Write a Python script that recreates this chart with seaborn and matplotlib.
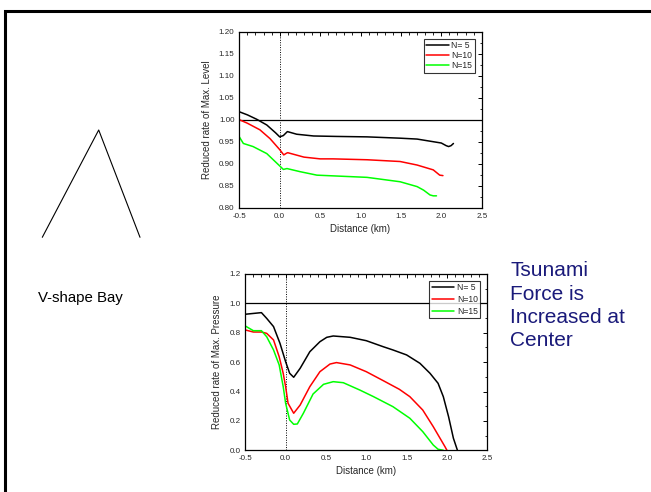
import numpy as np
import pandas as pd
import matplotlib
matplotlib.use("Agg")
import matplotlib.pyplot as plt
from matplotlib.lines import Line2D
from matplotlib.ticker import MultipleLocator
import seaborn as sns

# ---------------- data ----------------
series_names = ["N= 5", "N=10", "N=15"]
series_colors = ["#000000", "#FF0000", "#00FF00"]

# Top: reduced rate of max. level
lvl_x5 = [-0.5, -0.4, -0.285, -0.16, -0.05, 0.0, 0.045, 0.095, 0.21, 0.42, 0.7, 1.08, 1.49, 1.70, 1.90, 2.0, 2.06, 2.09, 2.12, 2.15]
lvl_y5 = [1.018, 1.011, 1.001, 0.988, 0.970, 0.961, 0.964, 0.973, 0.967, 0.963, 0.962, 0.961, 0.958, 0.956, 0.950, 0.947, 0.941, 0.939, 0.941, 0.946]
lvl_x10 = [-0.5, -0.4, -0.245, -0.12, 0.0, 0.05, 0.085, 0.1, 0.2, 0.3, 0.5, 0.66, 1.08, 1.49, 1.70, 1.90, 1.98, 2.02]
lvl_y10 = [1.000, 0.992, 0.977, 0.957, 0.932, 0.920, 0.924, 0.925, 0.920, 0.915, 0.911, 0.911, 0.909, 0.905, 0.897, 0.886, 0.874, 0.873]
lvl_x15 = [-0.5, -0.45, -0.33, -0.16, 0.0, 0.045, 0.09, 0.25, 0.46, 1.08, 1.49, 1.70, 1.78, 1.86, 1.90, 1.94]
lvl_y15 = [0.961, 0.946, 0.939, 0.923, 0.895, 0.887, 0.889, 0.882, 0.874, 0.869, 0.859, 0.848, 0.840, 0.829, 0.827, 0.827]

# Bottom: reduced rate of max. pressure
prs_x5 = [-0.5, -0.3, -0.235, -0.15, -0.07, 0.0, 0.05, 0.1, 0.18, 0.3, 0.425, 0.51, 0.59, 0.8, 1.0, 1.21, 1.33, 1.5, 1.665, 1.79, 1.89, 1.955, 2.02, 2.08, 2.13]
prs_y5 = [0.926, 0.937, 0.898, 0.842, 0.728, 0.603, 0.524, 0.497, 0.558, 0.671, 0.739, 0.769, 0.778, 0.769, 0.746, 0.705, 0.683, 0.649, 0.592, 0.524, 0.456, 0.365, 0.229, 0.082, 0.0]
prs_x10 = [-0.5, -0.4, -0.3, -0.235, -0.15, -0.08, -0.03, 0.0, 0.03, 0.1, 0.18, 0.3, 0.425, 0.55, 0.63, 0.8, 1.0, 1.21, 1.41, 1.54, 1.7, 1.83, 1.975, 2.0]
prs_y10 = [0.819, 0.805, 0.805, 0.796, 0.751, 0.637, 0.524, 0.433, 0.320, 0.252, 0.308, 0.433, 0.535, 0.587, 0.597, 0.581, 0.535, 0.474, 0.415, 0.365, 0.274, 0.161, 0.025, 0.0]
prs_x15 = [-0.5, -0.4, -0.3, -0.235, -0.15, -0.08, -0.03, 0.0, 0.05, 0.1, 0.145, 0.22, 0.34, 0.47, 0.59, 0.715, 0.92, 1.09, 1.33, 1.54, 1.7, 1.83, 1.89, 1.955]
prs_y15 = [0.846, 0.814, 0.814, 0.773, 0.683, 0.581, 0.433, 0.320, 0.206, 0.177, 0.179, 0.252, 0.383, 0.449, 0.467, 0.460, 0.410, 0.365, 0.297, 0.218, 0.127, 0.036, 0.007, 0.0]

x_label = "Distance (km)"
top_ylabel = "Reduced rate of Max. Level"
bot_ylabel = "Reduced rate of Max. Pressure"
side_text = "V-shape Bay"
note_text = "Tsunami\nForce is\nIncreased at\nCenter"


def long_df(xs, ys):
    frames = []
    for name, x, y in zip(series_names, xs, ys):
        frames.append(pd.DataFrame({"x": x, "y": y, "series": name}))
    return pd.concat(frames, ignore_index=True)


df_top = long_df([lvl_x5, lvl_x10, lvl_x15], [lvl_y5, lvl_y10, lvl_y15])
df_bot = long_df([prs_x5, prs_x10, prs_x15], [prs_y5, prs_y10, prs_y15])

sns.set_style("white")
plt.rcParams["font.family"] = ["Liberation Sans", "DejaVu Sans"]

fig = plt.figure(figsize=(6.51, 4.92), dpi=100)
palette = dict(zip(series_names, series_colors))

ax1 = fig.add_axes([0.3676, 0.5778, 0.3724, 0.3578])
ax2 = fig.add_axes([0.3768, 0.0848, 0.3717, 0.3583])


def style_axes(ax, ylim, ymajor, yminor, fmt, ylabel, lspacing):
    ax.set_xlim(-0.5, 2.5)
    ax.set_ylim(*ylim)
    ax.xaxis.set_major_locator(MultipleLocator(0.5))
    ax.xaxis.set_minor_locator(MultipleLocator(0.1))
    ax.yaxis.set_major_locator(MultipleLocator(ymajor))
    ax.yaxis.set_minor_locator(MultipleLocator(yminor))
    ax.yaxis.set_major_formatter(matplotlib.ticker.FormatStrFormatter(fmt))
    ax.xaxis.set_major_formatter(matplotlib.ticker.FormatStrFormatter("%.1f"))
    ax.tick_params(which="both", direction="in", top=True, right=True,
                   labelsize=5.8, pad=3.5, color="black")
    ax.tick_params(which="major", length=3, width=0.7)
    ax.tick_params(which="minor", length=1.8, width=0.6)
    for s in ax.spines.values():
        s.set_color("black")
        s.set_linewidth(0.9)
    ax.set_xlabel(x_label, fontsize=7, labelpad=3)
    ax.set_ylabel(ylabel, fontsize=7, labelpad=5)
    ax.axhline(1.0, color="black", lw=0.9, zorder=1)
    ax.axvline(0.0, color="black", lw=0.7, ls=(0, (1, 1.5)), zorder=1)
    leg = ax.legend(loc="upper right", fontsize=6.2, frameon=True, fancybox=False,
                    handlelength=2.6, handletextpad=0.3, borderpad=0.3,
                    labelspacing=lspacing, borderaxespad=0.8)
    leg.get_frame().set_edgecolor("black")
    leg.get_frame().set_linewidth(0.8)


sns.lineplot(data=df_top, x="x", y="y", hue="series", palette=palette,
             ax=ax1, lw=1.1, sort=False, estimator=None)
style_axes(ax1, (0.80, 1.20), 0.05, 0.025, "%.2f", top_ylabel, 0.12)

sns.lineplot(data=df_bot, x="x", y="y", hue="series", palette=palette,
             ax=ax2, lw=1.1, sort=False, estimator=None)
style_axes(ax2, (0.0, 1.2), 0.2, 0.1, "%.1f", bot_ylabel, 0.3)

# V-shape sketch
W, H = 651.0, 492.0
def fx(px):
    return px / W
def fy(py):
    return 1 - py / H

fig.add_artist(Line2D([fx(42.3), fx(98.7), fx(140)], [fy(237.3), fy(130), fy(237.3)],
                      color="black", lw=0.8, transform=fig.transFigure))

# slide frame (top and left)
fig.add_artist(Line2D([fx(5), fx(5), fx(651)], [fy(492), fy(10.5), fy(10.5)],
                      color="black", lw=2.2, transform=fig.transFigure,
                      solid_joinstyle="miter"))

fig.text(fx(38), fy(298), side_text, fontsize=10.8, va="center", ha="left", color="black")
fig.text(fx(510), fy(261), note_text, fontsize=15, va="top", ha="left",
         color="#1a1a7a", linespacing=1.3)

fig.savefig("out.png", dpi=100)
